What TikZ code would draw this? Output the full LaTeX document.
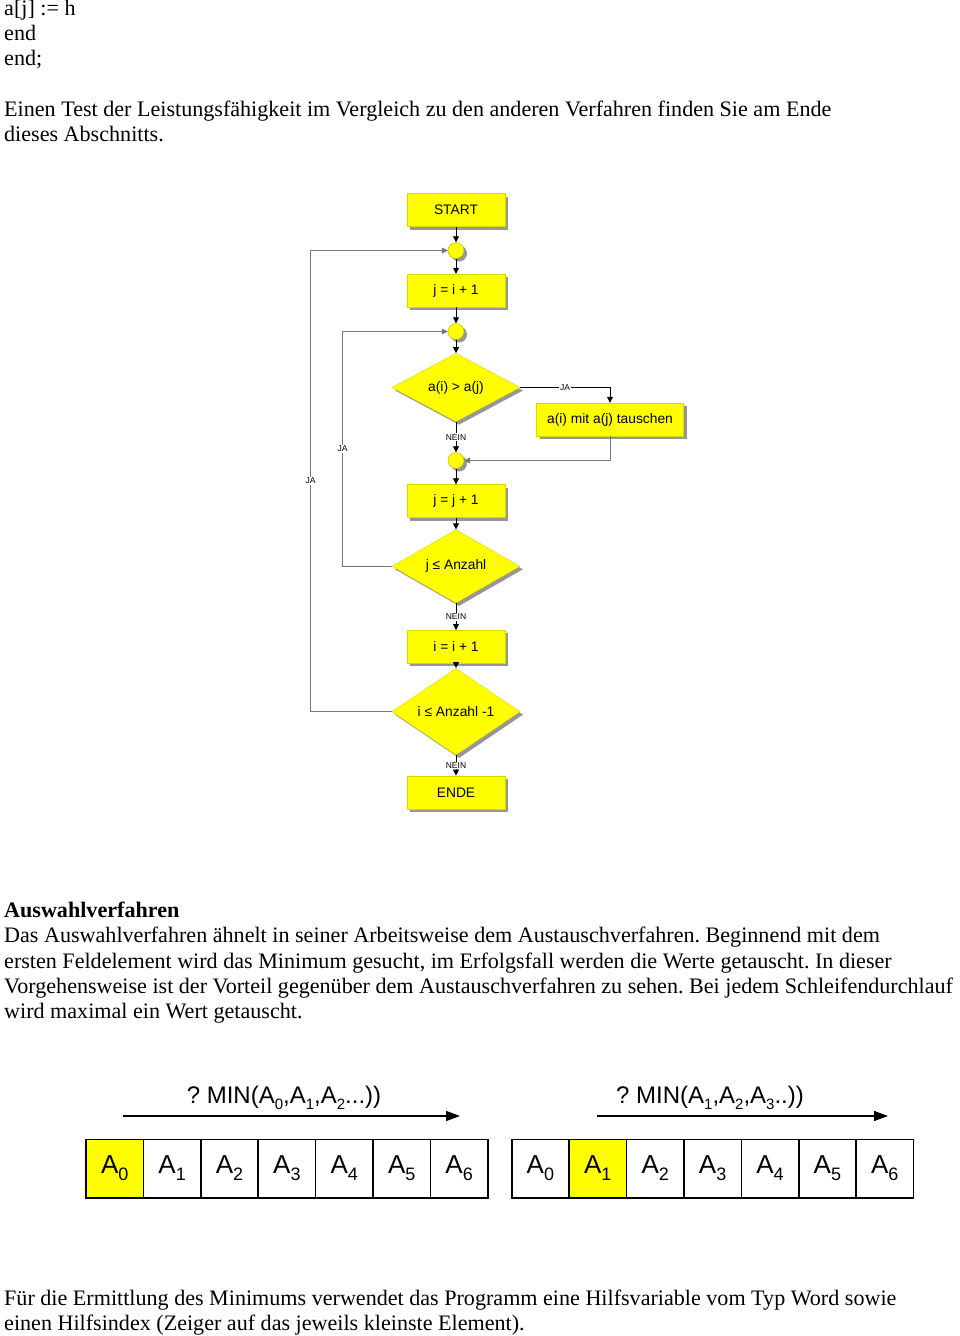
\documentclass[tikz,border=0pt]{standalone}
\usepackage{fontspec}
\setmainfont{Liberation Serif}
\newfontfamily\arial{Liberation Sans}
\usetikzlibrary{shapes.geometric,arrows.meta,shadows}
\definecolor{fy}{RGB}{255,255,0}
\definecolor{shd}{RGB}{150,150,150}
\definecolor{loopc}{RGB}{120,120,120}
\newcommand\cellsub[1]{\raisebox{-7pt}{\fontsize{18}{18}\selectfont #1}}
\newcommand\minsub[1]{\raisebox{-6pt}{\fontsize{15}{15}\selectfont #1}}
\frenchspacing
\begin{document}
\begin{tikzpicture}[x=1pt,y=-1pt,
  txt/.style={anchor=base west,inner sep=0,font=\fontsize{22.1}{25}\selectfont},
  shd/.style={drop shadow={shadow xshift=3pt,shadow yshift=-3pt,fill=shd,opacity=1}},
  box/.style={shd,draw=fy!85!black,line width=0.4pt,fill=fy,minimum width=98pt,minimum height=33pt,inner sep=0,font=\arial\fontsize{13.8}{16}\selectfont},
  dia/.style={shd,diamond,draw=fy!85!black,line width=0.4pt,fill=fy,minimum width=128pt,minimum height=63pt,inner sep=0,font=\arial\fontsize{13.8}{16}\selectfont},
  jcirc/.style={shd,circle,draw=fy!70!black,line width=0.4pt,fill=fy,minimum size=16pt,inner sep=0},
  lab/.style={fill=white,inner sep=1pt,font=\arial\fontsize{8.5}{9}\selectfont},
  fl/.style={line width=0.8pt,-{Triangle[length=6pt,width=6pt]}},
  lp/.style={draw=loopc,line width=0.6pt,-{Triangle[length=6pt,width=6pt]}},
  cell/.style={draw=black,line width=1.6pt,minimum width=57.4pt,minimum height=58.4pt,inner sep=0,font=\arial\fontsize{26}{26}\selectfont},
  arr/.style={line width=1.2pt,-{Triangle[length=14pt,width=10pt]}},
  minl/.style={anchor=base,inner sep=0,font=\arial\fontsize{24}{24}\selectfont}
]
\useasboundingbox (0,0) rectangle (960,1336);
% top text
\node[txt] (t1) at (4,15) {a[j] := h};
\node[txt] (t2) at (4,40) {end};
\node[txt] (t3) at (4,65) {end;};
\node[txt] (t4) at (4,116.5) {Einen Test der Leistungsfähigkeit im Vergleich zu den anderen Verfahren finden Sie am Ende};
\node[txt] (t5) at (4,141.5) {dieses Abschnitts.};
% flowchart
\node[box] (start) at (456,210) {START};
\node[jcirc] (c1) at (456,250.5) {};
\node[box] (b1) at (456,290.5) {j = i + 1};
\node[jcirc] (c2) at (456,331.5) {};
\node[dia] (d1) at (456,387.5) {a(i) > a(j)};
\node[box,minimum width=147pt] (t) at (610,419.5) {a(i) mit a(j) tauschen};
\node[jcirc] (c3) at (456,460.5) {};
\node[box] (b2) at (456,501) {j = j + 1};
\node[dia] (d2) at (456,566.3) {j ≤ Anzahl};
\node[box] (b3) at (456,646.7) {i = i + 1};
\node[dia] (d3) at (456,711.7) {i ≤ Anzahl -1};
\node[box] (ende) at (456,792.3) {ENDE};
\coordinate (L1) at (310.5,250.5);
\coordinate (L2) at (342.5,331.5);
\draw[fl] (start) -- (c1);
\draw[fl] (c1) -- (b1);
\draw[fl] (b1) -- (c2);
\draw[fl] (c2) -- (d1);
\draw[fl] (d1.east) -| node[lab,pos=0.25] (ja1) {JA} (t.north);
\draw[fl] (d1.south) -- node[lab] (n1) {NEIN} (c3);
\draw[lp] (t.south) |- (c3.east);
\draw[fl] (c3) -- (b2);
\draw[fl] (b2) -- (d2.north);
\draw[fl] (d2.south) -- node[lab] (n2) {NEIN} (b3);
\draw[fl] (b3) -- (d3.north);
\draw[fl] (d3.south) -- node[lab] (n3) {NEIN} (ende);
\draw[lp] (d2.west) -| node[lab,pos=0.75] (ja2) {JA} (L2) -- (c2.west);
\draw[lp] (d3.west) -| node[lab,pos=0.75] (ja3) {JA} (L1) -- (c1.west);
% paragraph
\node[txt,font=\bfseries\fontsize{22.1}{25}\selectfont] (p0) at (4,917.5) {Auswahlverfahren};
\node[txt] (p1) at (4,942.8) {Das Auswahlverfahren ähnelt in seiner Arbeitsweise dem Austauschverfahren. Beginnend mit dem};
\node[txt] (p2) at (4,968.1) {ersten Feldelement wird das Minimum gesucht, im Erfolgsfall werden die Werte getauscht. In dieser};
\node[txt] (p3) at (4,993.4) {Vorgehensweise ist der Vorteil gegenüber dem Austauschverfahren zu sehen. Bei jedem Schleifendurchlauf};
\node[txt] (p4) at (4,1018.7) {wird maximal ein Wert getauscht.};
% arrays
\foreach \i/\f in {0/fy,1/white,2/white,3/white,4/white,5/white,6/white}{
  \node[cell,fill=\f] (La\i) at ({86+57.4*(\i+0.5)},1168.5) {A\cellsub{\i}};
}
\foreach \i/\f in {0/white,1/fy,2/white,3/white,4/white,5/white,6/white}{
  \node[cell,fill=\f] (Ra\i) at ({511.7+57.4*(\i+0.5)},1168.5) {A\cellsub{\i}};
}
\coordinate (la1) at (123,1116);
\coordinate (la2) at (460,1116);
\coordinate (ra1) at (597,1116);
\coordinate (ra2) at (888,1116);
\draw[arr] (la1) -- (la2);
\draw[arr] (ra1) -- (ra2);
\node[minl] (lmin) at (284,1103) {? MIN(A\minsub{0},A\minsub{1},A\minsub{2}...))};
\node[minl] (rmin) at (710,1103) {? MIN(A\minsub{1},A\minsub{2},A\minsub{3}..))};
% last text
\node[txt] (q1) at (4,1305) {Für die Ermittlung des Minimums verwendet das Programm eine Hilfsvariable vom Typ Word sowie};
\node[txt] (q2) at (4,1330.5) {einen Hilfsindex (Zeiger auf das jeweils kleinste Element).};
\end{tikzpicture}
\end{document}
